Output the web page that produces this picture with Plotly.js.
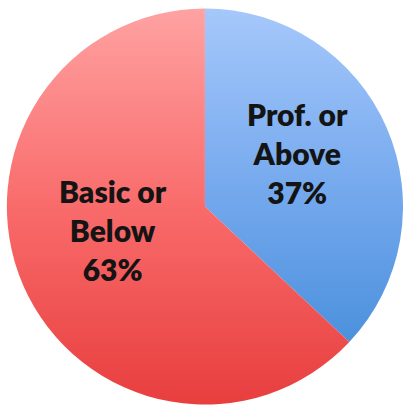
<!DOCTYPE html>
<html>
<head>
<meta charset="utf-8">
<script src="https://cdn.plot.ly/plotly-3.0.1.min.js"></script>
<style>
  html, body { margin: 0; padding: 0; background: #ffffff; }
  #chart { width: 403px; height: 413px; }
</style>
</head>
<body>
<div id="chart"></div>
<script>
// Achievement levels and their shares of students
const categories = ['Prof. or Above', 'Basic or Below'];
const lineBreaks = ['Prof. or<br>Above', 'Basic or<br>Below'];
const shares = [37, 63];

// Vertical shading for each slice: top, middle, bottom
const sliceShades = [
  ['#a6c8fb', '#70a6ec', '#3b87d5'],
  ['#ffa2a2', '#f96b6b', '#e83e3e']
];
const flatColors = sliceShades.map(s => s[1]);

const total = shares.reduce((a, b) => a + b, 0);
const labelText = lineBreaks.map((name, i) =>
  name + '<br>' + Math.round(shares[i] / total * 100) + '%');

const labelFont = { family: 'Lato, "Open Sans", sans-serif', size: 30, color: '#141414', weight: 800 };

const trace = {
  type: 'pie',
  labels: categories,
  values: shares,
  sort: false,
  direction: 'clockwise',
  rotation: 0,
  textinfo: 'none',
  hoverinfo: 'label+percent',
  marker: { colors: flatColors, line: { width: 0 } },
  domain: { x: [0.017, 1], y: [0.01, 0.99] },
  showlegend: false
};

const layout = {
  width: 403,
  height: 413,
  margin: { l: 0, r: 0, t: 0, b: 0 },
  paper_bgcolor: '#ffffff',
  showlegend: false,
  annotations: [
    { text: labelText[0], x: 0.737, y: 0.630 },
    { text: labelText[1], x: 0.280, y: 0.443 }
  ].map(a => Object.assign(a, {
    xref: 'paper', yref: 'paper', showarrow: false,
    xanchor: 'center', yanchor: 'middle', align: 'center',
    font: labelFont
  }))
};

Plotly.newPlot('chart', [trace], layout, { displayModeBar: false, staticPlot: true }).then(gd => {
  const svgNS = 'http://www.w3.org/2000/svg';
  const svg = gd.querySelector('.main-svg');
  let defs = svg.querySelector('defs');
  if (!defs) { defs = document.createElementNS(svgNS, 'defs'); svg.insertBefore(defs, svg.firstChild); }
  const paths = gd.querySelectorAll('g.slice path.surface');
  // vertical extent of the whole pie in the slice group's own coordinates
  let top = Infinity, bottom = -Infinity;
  paths.forEach(p => { const b = p.getBBox(); top = Math.min(top, b.y); bottom = Math.max(bottom, b.y + b.height); });
  paths.forEach((p, i) => {
    const g = document.createElementNS(svgNS, 'linearGradient');
    g.setAttribute('id', 'sliceShade' + i);
    g.setAttribute('gradientUnits', 'userSpaceOnUse');
    g.setAttribute('x1', 0); g.setAttribute('x2', 0);
    g.setAttribute('y1', top); g.setAttribute('y2', bottom);
    sliceShades[i].forEach((c, k) => {
      const s = document.createElementNS(svgNS, 'stop');
      s.setAttribute('offset', (k / (sliceShades[i].length - 1) * 100) + '%');
      s.setAttribute('stop-color', c);
      g.appendChild(s);
    });
    defs.appendChild(g);
    p.style.fill = 'url(#sliceShade' + i + ')';
  });
});
</script>
</body>
</html>
